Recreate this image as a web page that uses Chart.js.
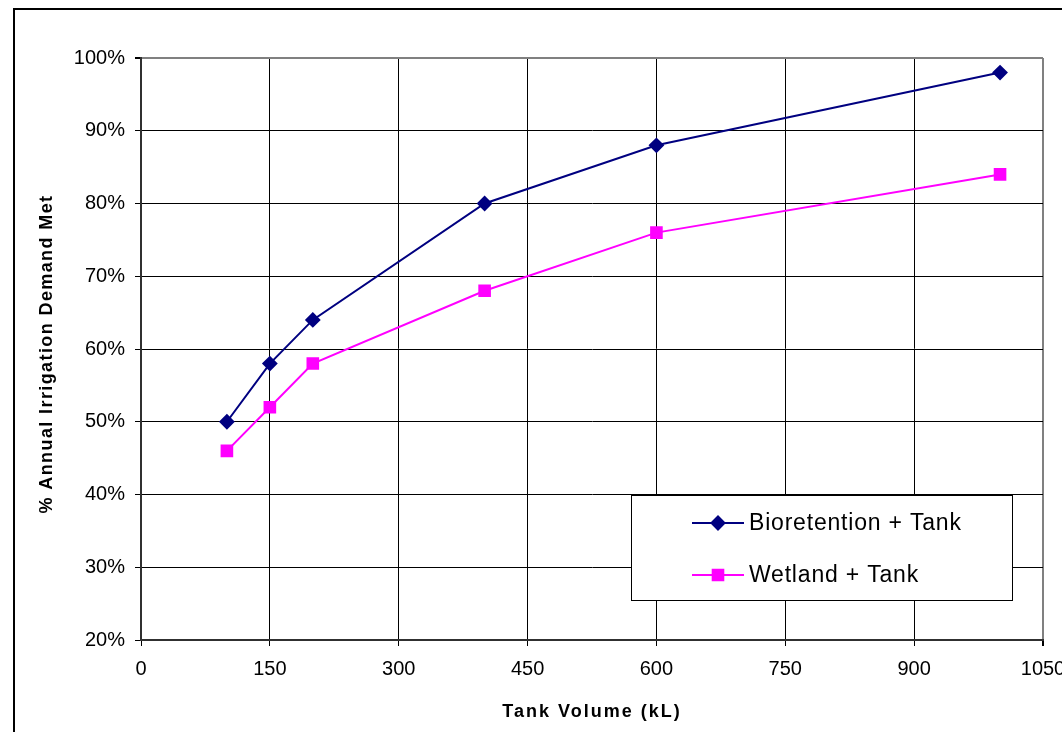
<!DOCTYPE html>
<html>
<head>
<meta charset="utf-8">
<script src="https://cdn.jsdelivr.net/npm/chart.js@4.4.1/dist/chart.umd.min.js"></script>
<style>
  html, body { margin: 0; padding: 0; background: #fff; }
  #wrap { width: 1062px; height: 732px; }
</style>
</head>
<body>
<div id="wrap"><canvas id="grafico" width="1062" height="732"></canvas></div>
<script>
// valores
const volumes = [100, 150, 200, 400, 600, 1000];
const bioretention = [50, 58, 64, 80, 88, 98];
const wetland = [46, 52, 58, 68, 76, 84];
const xTicks = [0, 150, 300, 450, 600, 750, 900, 1050];
const yTicks = [20, 30, 40, 50, 60, 70, 80, 90, 100];

const FONTE = "'Liberation Sans', Arial, sans-serif";

// moldura externa do gráfico (estilo Excel)
const moldura = {
  id: "moldura",
  beforeDraw(chart) {
    const ctx = chart.ctx;
    ctx.save();
    ctx.fillStyle = "#fff";
    ctx.fillRect(0, 0, chart.width, chart.height);
    ctx.strokeStyle = "#000";
    ctx.lineWidth = 2;
    ctx.strokeRect(14, 9, 1200, 900);
    ctx.restore();
  }
};

// títulos dos eixos com espaçamento entre letras
const titulos = {
  id: "titulos",
  afterDraw(chart) {
    const ctx = chart.ctx;
    const a = chart.chartArea;
    ctx.save();
    ctx.fillStyle = "#000";
    ctx.font = "bold 18px " + FONTE;
    ctx.textAlign = "center";
    ctx.textBaseline = "middle";
    if ("letterSpacing" in ctx) ctx.letterSpacing = "2px";
    ctx.fillText("Tank Volume (kL)", (a.left + a.right) / 2, 712);
    if ("letterSpacing" in ctx) ctx.letterSpacing = "1.4px";
    ctx.translate(47, (a.top + a.bottom) / 2 + 5);
    ctx.rotate(-Math.PI / 2);
    ctx.fillText("% Annual Irrigation Demand Met", 0, 0);
    ctx.restore();
  }
};

// legenda dentro da área do gráfico, com caixa
const legenda = {
  id: "legenda",
  afterDraw(chart) {
    const ctx = chart.ctx;
    ctx.save();
    ctx.fillStyle = "#fff";
    ctx.fillRect(631.5, 495.5, 381, 105);
    ctx.strokeStyle = "#000";
    ctx.lineWidth = 1;
    ctx.strokeRect(631.5, 495.5, 381, 105);
    chart.data.datasets.forEach((ds, i) => {
      const y = 523 + i * 52;
      ctx.strokeStyle = ds.borderColor;
      ctx.lineWidth = 2;
      ctx.beginPath();
      ctx.moveTo(692, y);
      ctx.lineTo(744, y);
      ctx.stroke();
      ctx.fillStyle = ds.pointBackgroundColor;
      ctx.strokeStyle = ds.borderColor;
      Chart.helpers.drawPoint(ctx, {
        pointStyle: ds.pointStyle,
        radius: ds.pointRadius,
        borderWidth: 1,
        rotation: 0
      }, 718, y);
      ctx.fillStyle = "#000";
      ctx.font = "23px " + FONTE;
      ctx.textAlign = "left";
      ctx.textBaseline = "middle";
      if ("letterSpacing" in ctx) ctx.letterSpacing = "0.8px";
      ctx.fillText(ds.label, 749, y + 1);
      if ("letterSpacing" in ctx) ctx.letterSpacing = "0px";
    });
    ctx.restore();
  }
};

new Chart(document.getElementById("grafico").getContext("2d"), {
  type: "line",
  data: {
    datasets: [{
      label: "Bioretention + Tank",
      data: volumes.map((v, i) => ({ x: v, y: bioretention[i] })),
      borderColor: "#000080",
      backgroundColor: "#000080",
      pointBackgroundColor: "#000080",
      pointStyle: "rectRot",
      pointRadius: 6.5,
      borderWidth: 2,
      tension: 0
    }, {
      label: "Wetland + Tank",
      data: volumes.map((v, i) => ({ x: v, y: wetland[i] })),
      borderColor: "#ff00ff",
      backgroundColor: "#ff00ff",
      pointBackgroundColor: "#ff00ff",
      pointStyle: "rect",
      pointRadius: 7.5,
      borderWidth: 2,
      tension: 0
    }]
  },
  options: {
    responsive: false,
    animation: false,
    layout: { padding: { top: 58, right: 19, bottom: 0, left: 0 } },
    plugins: {
      legend: { display: false },
      tooltip: { enabled: false }
    },
    scales: {
      x: {
        type: "linear",
        min: 0,
        max: 1050,
        afterBuildTicks: (s) => { s.ticks = xTicks.map((v) => ({ value: v })); },
        afterFit: (s) => { s.height = 92; s.paddingLeft = 0; s.paddingRight = 0; },
        ticks: {
          color: "#000",
          font: { family: FONTE, size: 20 },
          padding: 11,
          maxRotation: 0,
          autoSkip: false,
          callback: (v) => String(v)
        },
        grid: {
          color: (c) => (c.tick && c.tick.value === 1050 ? "#808080" : "#000"),
          lineWidth: (c) => (c.tick && c.tick.value === 1050 ? 2 : 1),
          tickColor: "#000",
          tickLength: 6
        },
        border: { color: "#303030", width: 2 }
      },
      y: {
        type: "linear",
        min: 20,
        max: 100,
        afterBuildTicks: (s) => { s.ticks = yTicks.map((v) => ({ value: v })); },
        afterFit: (s) => { s.width = 141; s.paddingTop = 0; s.paddingBottom = 0; },
        ticks: {
          color: "#000",
          font: { family: FONTE, size: 20 },
          padding: 10,
          callback: (v) => v + "%"
        },
        grid: {
          color: (c) => (c.tick && c.tick.value === 100 ? "#808080" : "#000"),
          lineWidth: (c) => (c.tick && c.tick.value === 100 ? 2 : 1),
          tickColor: "#000",
          tickLength: 6
        },
        border: { color: "#303030", width: 2 }
      }
    }
  },
  plugins: [moldura, titulos, legenda]
});
</script>
</body>
</html>
